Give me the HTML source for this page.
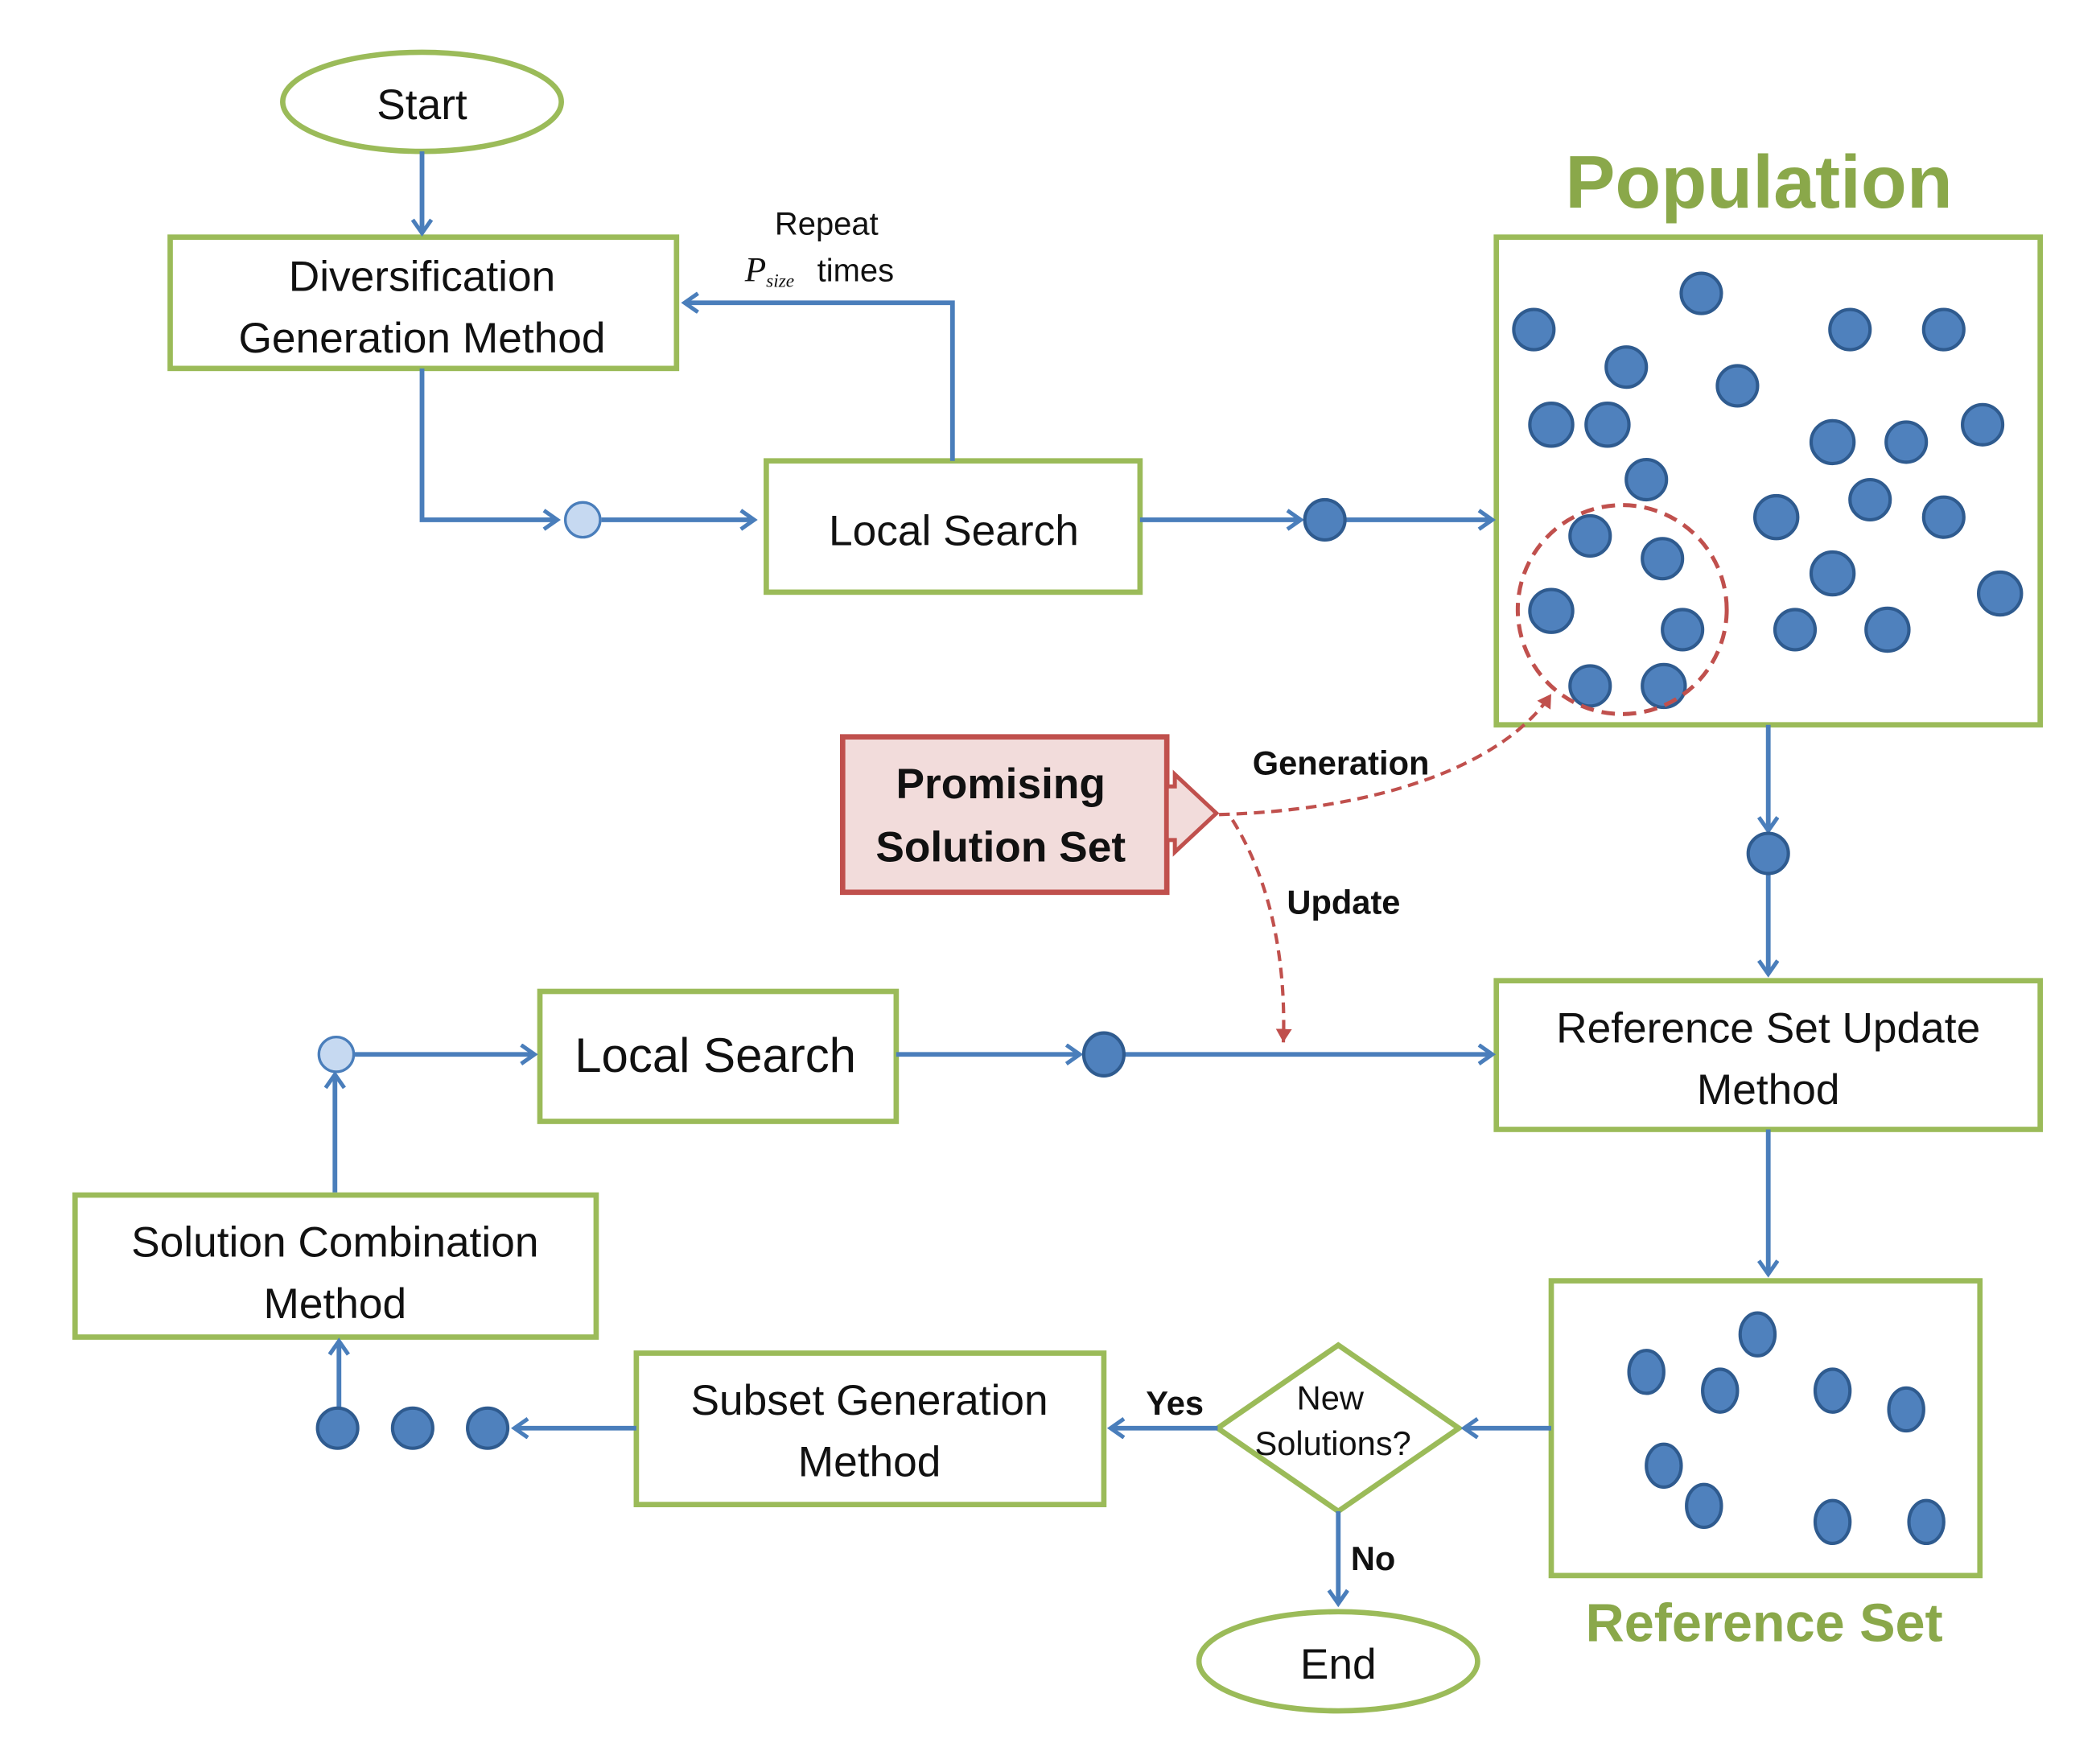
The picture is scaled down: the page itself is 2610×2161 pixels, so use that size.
<!DOCTYPE html>
<html><head><meta charset="utf-8"><style>html,body{margin:0;padding:0;background:#fff}svg{display:block}</style></head>
<body>
<svg width="2610" height="2161" viewBox="0 0 1567.6 1298" xmlns="http://www.w3.org/2000/svg" font-family="Liberation Sans, sans-serif">
<defs>
<marker id="ah" markerWidth="20" markerHeight="20" refX="14" refY="8" orient="auto" markerUnits="userSpaceOnUse">
<polyline points="4,1 14,8 4,15" fill="none" stroke="#4a7ebb" stroke-width="3"/>
</marker>
<marker id="rh" markerWidth="14" markerHeight="14" refX="10" refY="6" orient="auto" markerUnits="userSpaceOnUse">
<polygon points="0,0 10,6 0,12" fill="#c0504d"/>
</marker>
</defs>
<g fill="none" stroke="#9bbb59" stroke-width="4">
<ellipse cx="315" cy="76" rx="104" ry="37"/>
<rect x="127" y="177" width="378" height="98"/>
<rect x="572" y="344" width="279" height="98"/>
<rect x="1117" y="177" width="406" height="364"/>
<rect x="1117" y="732" width="406" height="111"/>
<rect x="403" y="740" width="266" height="97"/>
<rect x="56" y="892" width="389" height="106"/>
<rect x="1158" y="956" width="320" height="220"/>
<rect x="475" y="1010" width="349" height="113"/>
<polygon points="999,1004 1089,1066 999,1128 909,1066"/>
<ellipse cx="999" cy="1240" rx="104" ry="37"/>
</g>
<g fill="none" stroke="#4a7ebb" stroke-width="3.5">
<line x1="315" y1="113" x2="315" y2="174" marker-end="url(#ah)"/>
<polyline points="315,275 315,388 416,388" marker-end="url(#ah)"/>
<line x1="449" y1="388" x2="563" y2="388" marker-end="url(#ah)"/>
<polyline points="711,344 711,226 511,226" marker-end="url(#ah)"/>
<line x1="851" y1="388" x2="971" y2="388" marker-end="url(#ah)"/>
<line x1="1004" y1="388" x2="1114" y2="388" marker-end="url(#ah)"/>
<line x1="1320" y1="541" x2="1320" y2="620" marker-end="url(#ah)"/>
<line x1="1320" y1="653" x2="1320" y2="727" marker-end="url(#ah)"/>
<line x1="669" y1="787" x2="806" y2="787" marker-end="url(#ah)"/>
<line x1="840" y1="787" x2="1114" y2="787" marker-end="url(#ah)"/>
<line x1="264" y1="787" x2="399" y2="787" marker-end="url(#ah)"/>
<line x1="250" y1="890" x2="250" y2="802" marker-end="url(#ah)"/>
<line x1="1320" y1="843" x2="1320" y2="951" marker-end="url(#ah)"/>
<line x1="1158" y1="1066" x2="1093" y2="1066" marker-end="url(#ah)"/>
<line x1="909" y1="1066" x2="829" y2="1066" marker-end="url(#ah)"/>
<line x1="475" y1="1066" x2="384" y2="1066" marker-end="url(#ah)"/>
<line x1="253" y1="1050" x2="253" y2="1001" marker-end="url(#ah)"/>
<line x1="999" y1="1128" x2="999" y2="1197" marker-end="url(#ah)"/>
</g>
<g fill="#c6d9f1" stroke="#4a7ebb" stroke-width="2">
<circle cx="435" cy="388" r="13"/>
<circle cx="251" cy="787" r="13"/>
</g>
<g fill="#4f81bd" stroke="#2f5b8f" stroke-width="2.5">
<circle cx="989" cy="388" r="15"/>
<circle cx="1320" cy="637" r="15"/>
<ellipse cx="824" cy="787" rx="15" ry="16"/>
<circle cx="252" cy="1066" r="15"/><circle cx="308" cy="1066" r="15"/><circle cx="364" cy="1066" r="15"/>
<circle cx="1145" cy="246" r="15"/><circle cx="1270" cy="219" r="15"/><circle cx="1381" cy="246" r="15"/><circle cx="1451" cy="246" r="15"/>
<circle cx="1214" cy="274" r="15"/><circle cx="1297" cy="288" r="15"/><circle cx="1158" cy="317" r="16"/><circle cx="1200" cy="317" r="16"/>
<circle cx="1480" cy="317" r="15"/><circle cx="1368" cy="330" r="16"/><circle cx="1423" cy="330" r="15"/><circle cx="1229" cy="358" r="15"/>
<circle cx="1326" cy="386" r="16"/><circle cx="1396" cy="373" r="15"/><circle cx="1451" cy="386" r="15"/><circle cx="1187" cy="400" r="15"/>
<circle cx="1241" cy="417" r="15"/><circle cx="1368" cy="428" r="16"/><circle cx="1158" cy="456" r="16"/><circle cx="1256" cy="470" r="15"/>
<circle cx="1340" cy="470" r="15"/><circle cx="1409" cy="470" r="16"/><circle cx="1493" cy="443" r="16"/><circle cx="1187" cy="512" r="15"/><circle cx="1242" cy="512" r="16"/>
<ellipse cx="1229" cy="1024" rx="13" ry="16"/><ellipse cx="1312" cy="996" rx="13" ry="16"/><ellipse cx="1284" cy="1038" rx="13" ry="16"/>
<ellipse cx="1368" cy="1038" rx="13" ry="16"/><ellipse cx="1423" cy="1052" rx="13" ry="16"/><ellipse cx="1242" cy="1094" rx="13" ry="16"/>
<ellipse cx="1272" cy="1124" rx="13" ry="16"/><ellipse cx="1368" cy="1136" rx="13" ry="16"/><ellipse cx="1438" cy="1136" rx="13" ry="16"/>
</g>
<circle cx="1211" cy="455" r="78" fill="none" stroke="#c0504d" stroke-width="3" stroke-dasharray="10,6"/>
<rect x="629" y="550" width="242" height="116" fill="#f2dcdb" stroke="#c0504d" stroke-width="4"/>
<polygon points="871,587 877,587 877,578 908,607 877,636 877,627 871,627" fill="#f2dcdb" stroke="#c0504d" stroke-width="3"/>
<g fill="none" stroke="#c0504d" stroke-width="2.5" stroke-dasharray="8,5">
<path d="M910,608 C1020,605 1120,575 1158,518" marker-end="url(#rh)"/>
<path d="M920,612 C950,660 960,720 958,778" marker-end="url(#rh)"/>
</g>
<g text-anchor="middle" fill="#111" font-size="32">
<text x="315" y="89">Start</text>
<text x="315" y="217">Diversification</text>
<text x="315" y="263">Generation Method</text>
<text x="712" y="407">Local Search</text>
<text x="1320" y="778">Reference Set Update</text>
<text x="1320" y="824">Method</text>
<text x="534" y="800" font-size="36">Local Search</text>
<text x="250" y="938">Solution Combination</text>
<text x="250" y="984">Method</text>
<text x="649" y="1056">Subset Generation</text>
<text x="649" y="1102">Method</text>
<text x="999" y="1253">End</text>
<text x="617" y="175" font-size="24">Repeat</text>
<text x="993" y="1052" font-size="25">New</text>
<text x="995" y="1086" font-size="25">Solutions?</text>
<text x="747" y="596" font-weight="bold">Promising</text>
<text x="747" y="643" font-weight="bold">Solution Set</text>
<text x="1001" y="578" font-size="25" font-weight="bold">Generation</text>
<text x="1003" y="682" font-size="25" font-weight="bold">Update</text>
<text x="877" y="1056" font-size="25" font-weight="bold">Yes</text>
<text x="1025" y="1172" font-size="25" font-weight="bold">No</text>
<text x="1313" y="155" font-size="56" font-weight="bold" fill="#8aa84a">Population</text>
<text x="1317" y="1225" font-size="40" font-weight="bold" fill="#8aa84a">Reference Set</text>
</g>
<text x="556" y="210" font-family="Liberation Serif, serif" font-style="italic" font-size="26" fill="#111">P<tspan font-size="14" dy="4">size</tspan></text>
<text x="610" y="210" font-size="24" fill="#111">times</text>
</svg>
</body></html>
